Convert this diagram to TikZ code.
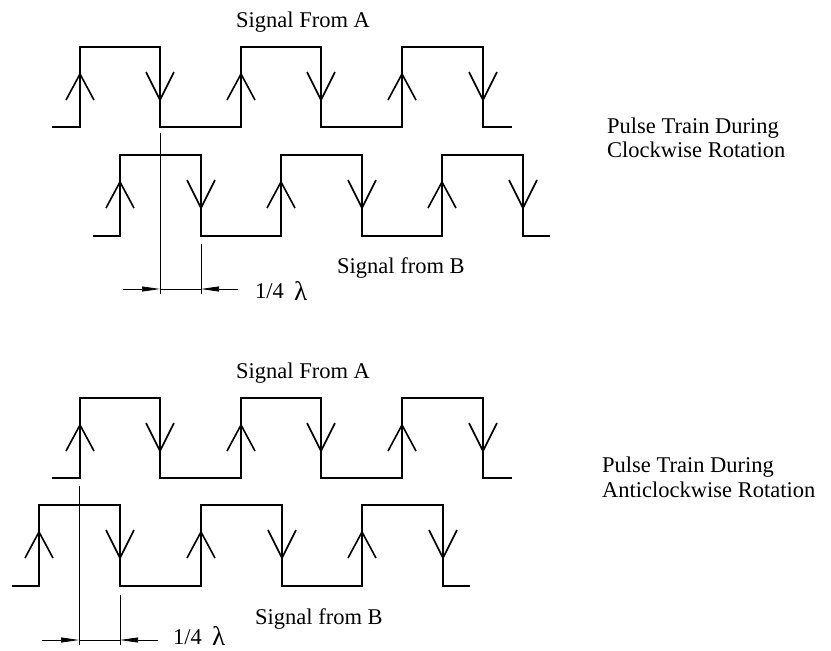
\documentclass[tikz,border=0pt]{standalone}
\usepackage{fontspec}
\setmainfont{Liberation Serif}
\usetikzlibrary{arrows.meta}
\tikzset{
  wave/.style={line width=1.8pt, line join=miter},
  chev/.style={line width=1.6pt},
  dimline/.style={line width=0.7pt},
  dimarrow/.style={line width=0.7pt, -{Triangle[length=18pt,width=5pt]}},
  lbl/.style={inner sep=0pt, anchor=base west, font=\fontsize{22.5}{26}\selectfont},
  lam/.style={inner sep=0pt, anchor=base west, font=\fontsize{27}{30}\selectfont},
}
\begin{document}
\begin{tikzpicture}[x=1pt,y=-1pt]
\useasboundingbox (0,0) rectangle (831,651);

% ---------------- Clockwise ----------------
% Signal A
\draw[wave] (52,127) -- (80,127) -- (80,47) -- (160,47) -- (160,127) -- (241,127)
  -- (241,47) -- (321,47) -- (321,127) -- (402,127) -- (402,47) -- (483,47)
  -- (483,127) -- (512,127);
\foreach \x in {80,241,402} \draw[chev] ({\x-14},100) -- (\x,74) -- ({\x+14},100);
\foreach \x in {160,321,483} \draw[chev] ({\x-14},72) -- (\x,100) -- ({\x+14},72);
% Signal B
\draw[wave] (93,236) -- (120,236) -- (120,155) -- (201,155) -- (201,236) -- (281,236)
  -- (281,155) -- (362,155) -- (362,236) -- (442,236) -- (442,155) -- (523,155)
  -- (523,236) -- (550,236);
\foreach \x in {120,281,442} \draw[chev] ({\x-14},208) -- (\x,182) -- ({\x+14},208);
\foreach \x in {201,362,523} \draw[chev] ({\x-14},180) -- (\x,208) -- ({\x+14},180);
% dimension
\coordinate (e1t) at (160,133);
\coordinate (e1b) at (160,294);
\coordinate (e2t) at (201,244);
\coordinate (e2b) at (201,294);
\coordinate (d1l) at (123,289);
\coordinate (d1a) at (160,289);
\coordinate (d1b) at (201,289);
\coordinate (d1r) at (238,289);
\draw[dimline] (e1t) -- (e1b);
\draw[dimline] (e2t) -- (e2b);
\draw[dimline] (d1a) -- (d1b);
\draw[dimarrow] (d1l) -- (d1a);
\draw[dimarrow] (d1r) -- (d1b);
\node[lbl] (q1) at (255,298) {1/4};
\node[lam] (l1) at (294,300) {λ};

\node[lbl] (sa1) at (236,27) {Signal From A};
\node[lbl] (sb1) at (337,273) {Signal from B};
\node[lbl] (p1) at (607,133) {Pulse Train During};
\node[lbl] (r1) at (607,157) {Clockwise Rotation};

% ---------------- Anticlockwise ----------------
% Signal A
\draw[wave] (52,478) -- (80,478) -- (80,398) -- (160,398) -- (160,478) -- (241,478)
  -- (241,398) -- (321,398) -- (321,478) -- (402,478) -- (402,398) -- (483,398)
  -- (483,478) -- (512,478);
\foreach \x in {80,241,402} \draw[chev] ({\x-14},451) -- (\x,425) -- ({\x+14},451);
\foreach \x in {160,321,483} \draw[chev] ({\x-14},423) -- (\x,451) -- ({\x+14},423);
% Signal B
\draw[wave] (12,586) -- (39,586) -- (39,505) -- (120,505) -- (120,586) -- (201,586)
  -- (201,505) -- (282,505) -- (282,586) -- (362,586) -- (362,505) -- (443,505)
  -- (443,586) -- (470,586);
\foreach \x in {39,201,362} \draw[chev] ({\x-14},558) -- (\x,532) -- ({\x+14},558);
\foreach \x in {120,282,443} \draw[chev] ({\x-14},530) -- (\x,558) -- ({\x+14},530);
% dimension
\coordinate (f1t) at (79,486);
\coordinate (f1b) at (79,645);
\coordinate (f2t) at (120,595);
\coordinate (f2b) at (120,645);
\coordinate (d2l) at (42,640);
\coordinate (d2a) at (79,640);
\coordinate (d2b) at (120,640);
\coordinate (d2r) at (158,640);
\draw[dimline] (f1t) -- (f1b);
\draw[dimline] (f2t) -- (f2b);
\draw[dimline] (d2a) -- (d2b);
\draw[dimarrow] (d2l) -- (d2a);
\draw[dimarrow] (d2r) -- (d2b);
\node[lbl] (q2) at (173,644) {1/4};
\node[lam] (l2) at (212,645) {λ};

\node[lbl] (sa2) at (236,378) {Signal From A};
\node[lbl] (sb2) at (255,624) {Signal from B};
\node[lbl] (p2) at (602,472) {Pulse Train During};
\node[lbl] (r2) at (602,497) {Anticlockwise Rotation};
\end{tikzpicture}
\end{document}
